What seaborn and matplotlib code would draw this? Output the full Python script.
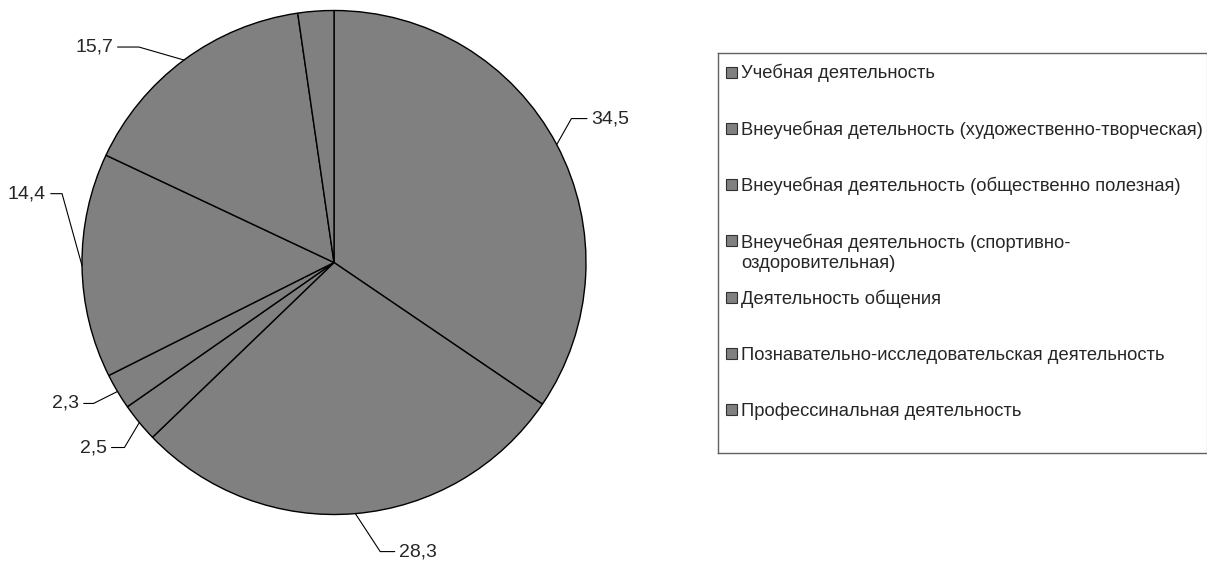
import matplotlib
matplotlib.use("Agg")
import numpy as np
import matplotlib.pyplot as plt
import seaborn as sns
from matplotlib.patches import Rectangle

# Data (percent)
categories = [
    "Учебная деятельность",
    "Внеучебная детельность (художественно-творческая)",
    "Внеучебная деятельность (общественно полезная)",
    "Внеучебная деятельность (спортивно-\nоздоровительная)",
    "Деятельность общения",
    "Познавательно-исследовательская деятельность",
    "Профессинальная деятельность",
]
# slices in clockwise order starting from 12 o'clock
slice_values = [34.5, 28.3, 2.5, 2.3, 14.4, 15.7, 2.3]
slice_labels = ["34,5", "28,3", "2,5", "2,3", "14,4", "15,7", ""]

# label offsets from the slice edge (pixels) and leader direction (degrees)
label_offsets = [(54, 26), (63, -38), (-46, -25), (-52, -12), (-55, 72), (-90, 13), None]
leader_angles = [60.5, -56.8, 239.2, 206.6, 105.5, 163.9, None]

sns.set_style("white")
plt.rcParams["font.family"] = ["Liberation Sans", "DejaVu Sans"]

W, H = 1207, 563
fig = plt.figure(figsize=(W / 100, H / 100), dpi=100)


def px_rect(x0, y0, x1, y1):
    # pixel box (top-left origin) -> figure fraction
    return [x0 / W, 1 - y1 / H, (x1 - x0) / W, (y1 - y0) / H]


# Pie
cx, cy, r = 334, 262.5, 252
lim = 1.3
ax = fig.add_axes(px_rect(cx - lim * r, cy - lim * r, cx + lim * r, cy + lim * r))
grey = "#808080"
wedges, _ = ax.pie(
    slice_values,
    startangle=90,
    counterclock=False,
    colors=[grey] * len(slice_values),
    wedgeprops=dict(edgecolor="black", linewidth=1),
)
ax.set_xlim(-lim, lim)
ax.set_ylim(-lim, lim)
ax.axis("off")

# Value labels with leader lines
for w, lab, off, ang in zip(wedges, slice_labels, label_offsets, leader_angles):
    if not lab:
        continue
    theta = np.deg2rad((w.theta1 + w.theta2) / 2)
    xy = (np.cos(theta), np.sin(theta))
    ax.annotate(
        lab, xy=xy, xytext=off, textcoords="offset pixels",
        ha="center", va="center", fontsize=14, annotation_clip=False,
        arrowprops=dict(arrowstyle="-", lw=0.8, color="black", shrinkA=1, shrinkB=0,
                        connectionstyle=f"angle,angleA=0,angleB={ang},rad=0"),
    )

# Legend box
lax = fig.add_axes(px_rect(718, 53, 1206.5, 453))
lax.set_xlim(718, 1206.5)
lax.set_ylim(453, 53)
lax.set_xticks([])
lax.set_yticks([])
for side, sp in lax.spines.items():
    sp.set_visible(True)
    sp.set_linewidth(1)
    sp.set_color("#d8d8d8" if side == "right" else "#606060")

pitch = 56.3
line_h = 21
for i, name in enumerate(categories):
    y = 72 + i * pitch
    extra = name.count("\n") * line_h  # baseline goes on the last line
    lax.add_patch(Rectangle((726, y - 5.5), 11, 11, facecolor=grey, edgecolor="#303030", lw=0.8))
    lax.text(741, y + 6.5 + extra, name, fontsize=13.2, ha="left", va="baseline", linespacing=1.27)

fig.savefig("out.png", dpi=100)
